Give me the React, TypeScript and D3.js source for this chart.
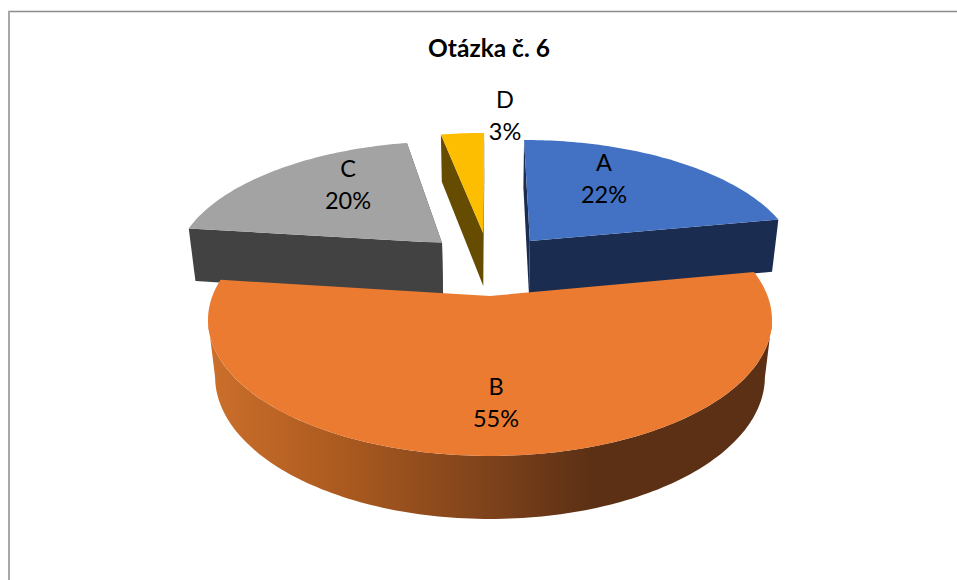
import React from "react";
import * as d3 from "d3";

const categories = ["A", "B", "C", "D"];
const values = [22, 55, 20, 3];
const percentLabels = ["22%", "55%", "20%", "3%"];
const topColors = ["#4371c3", "#ea7b31", "#a3a3a3", "#fdbd00"];
const sideColors = ["#1a2d50", "#5c3015", "#424242", "#654c00"];
const titleText = "Otázka č. 6";

const W = 957, H = 580;
const CX = 490, CY = 296, RX = 277.6, RY = 131.8, K = 0.176, E = 0.025, DROP = 57.5;
// in-plane explosion of each slice, in radius units
const explode: [number, number][] = [[0.155, 0.45], [0, 0], [-0.186, 0.433], [-0.027, 0.522]];
// per-slice radius correction for the renderer's stronger far-side perspective
const radiusU = [1.02, 1, 1.015, 1.06];
const radiusV = [1.045, 1, 1.045, 1.06];
const labelPos: [number, number][] = [[604, 163], [496, 387], [348, 169], [505, 100]];

type P = [number, number];
const top = (u: number, v: number): P => {
  const w = 1 + K * v;
  return [CX + (RX * u) / w, CY - (RY * v) / w];
};
const bottom = (u: number, v: number): P => {
  const w = 1 + K * v + E;
  return [CX + (RX * u) / w, CY + (DROP - RY * v) / w];
};
const line = d3.line<P>();

const pieArcs = d3.pie<number>().sort(null).startAngle(0).endAngle(2 * Math.PI)(values);

function arcPts(i: number, proj: (u: number, v: number) => P, from?: number, to?: number): P[] {
  const a0 = from ?? pieArcs[i].startAngle;
  const a1 = to ?? pieArcs[i].endAngle;
  const [ou, ov] = explode[i];
  const n = Math.max(4, Math.ceil((a1 - a0) / 0.02));
  const s = d3.scaleLinear().domain([0, n]).range([a0, a1]);
  return d3.range(n + 1).map((k) => proj(ou + radiusU[i] * Math.sin(s(k)), ov + radiusV[i] * Math.cos(s(k))));
}
const apex = (i: number, proj: (u: number, v: number) => P): P => proj(explode[i][0], explode[i][1]);

const topPath = (i: number) => line([apex(i, top), ...arcPts(i, top)]) + "Z";
const radialFace = (i: number, a: number) => {
  const rimT = arcPts(i, top, a, a + 1e-6)[0];
  const rimB = arcPts(i, bottom, a, a + 1e-6)[0];
  return line([apex(i, top), rimT, rimB, apex(i, bottom)]) + "Z";
};
// wall between the two silhouette angles of the projected circle
const silhouette = Math.acos(-K);
const wallPath = (i: number) => {
  const a0 = silhouette;
  const a1 = 2 * Math.PI - silhouette;
  return line([...arcPts(i, top, a0, a1), ...arcPts(i, bottom, a0, a1).reverse()]) + "Z";
};

const gradientStops: [number, string][] = [
  [0, "#cc6f2b"],
  [0.25, "#a9591f"],
  [0.5, "#7d421b"],
  [0.68, "#5c3015"],
  [1, "#5c3015"],
];

const backSlices = [0, 2, 3];

export default function App() {
  return (
    <svg width={W} height={H} style={{ position: "fixed", left: 0, top: 0, background: "#fff" }}>
      <defs>
        <linearGradient id="bWall" gradientUnits="userSpaceOnUse" x1={208} x2={772} y1={0} y2={0}>
          {gradientStops.map(([o, c]) => <stop key={o} offset={o} stopColor={c} />)}
        </linearGradient>
      </defs>
      <path d="M8 11.5H957" fill="none" stroke="#8c8c8c" strokeWidth={1.5} />
      <path d="M9 11V580" fill="none" stroke="#a8a8a8" strokeWidth={2} />
      <text x={489} y={57} textAnchor="middle" fontFamily="Lato" fontWeight={700} fontSize={24.5} fill="#000">{titleText}</text>
      {backSlices.map((i) => (
        <g key={i} fill={sideColors[i]}>
          <path d={radialFace(i, pieArcs[i].startAngle)} />
          <path d={radialFace(i, pieArcs[i].endAngle)} />
        </g>
      ))}
      {backSlices.map((i) => <path key={i} d={topPath(i)} fill={topColors[i]} />)}
      <path d={wallPath(1)} fill="url(#bWall)" />
      <path d={topPath(1)} fill={topColors[1]} />
      {categories.map((c, i) => (
        <text key={c} textAnchor="middle" fontFamily="Lato" fontSize={23.5} fill="#000">
          <tspan x={labelPos[i][0]} y={labelPos[i][1] + 8}>{c}</tspan>
          <tspan x={labelPos[i][0]} y={labelPos[i][1] + 40}>{percentLabels[i]}</tspan>
        </text>
      ))}
    </svg>
  );
}
